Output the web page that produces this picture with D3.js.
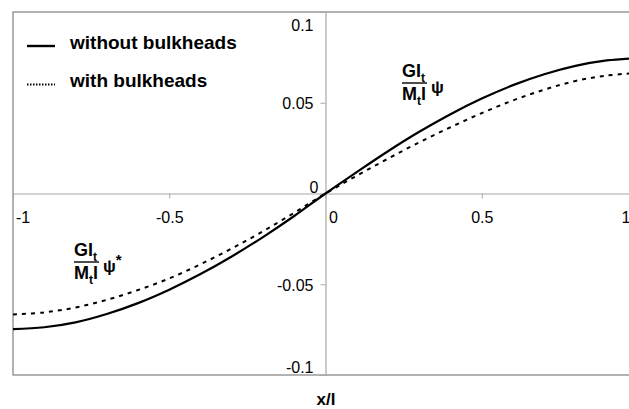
<!DOCTYPE html>
<html>
<head>
<meta charset="utf-8">
<script src="https://cdn.jsdelivr.net/npm/d3@7"></script>
<style>
  body { margin: 0; background: #fff; }
  text { font-family: Arial, "Liberation Sans", sans-serif; fill: #000; }
</style>
</head>
<body>
<svg id="chart" width="629" height="409"></svg>
<script>
// values
var xPos = [-1, -0.9, -0.8, -0.7, -0.6, -0.5, -0.4, -0.3, -0.2, -0.1, 0,
            0.1, 0.2, 0.3, 0.4, 0.5, 0.6, 0.7, 0.8, 0.9, 1];
var withoutBulkheads = [-0.0747, -0.0737, -0.0710, -0.0664, -0.0604, -0.0530, -0.0444, -0.0347, -0.0240, -0.0124, 0,
                        0.0118, 0.0233, 0.0340, 0.0437, 0.0523, 0.0597, 0.0657, 0.0703, 0.0733, 0.0746];
var withBulkheads = [-0.0666, -0.0655, -0.0628, -0.0586, -0.0532, -0.0468, -0.0390, -0.0303, -0.0208, -0.0106, 0,
                     0.0098, 0.0192, 0.0282, 0.0365, 0.0443, 0.0513, 0.0572, 0.0620, 0.0650, 0.0664];
var xTicks = [-1, -0.5, 0, 0.5, 1];
var xTickLabels = ["-1", "-0.5", "0", "0.5", "1"];
var yTicks = [-0.1, -0.05, 0, 0.05, 0.1];
var yTickLabels = ["-0.1", "-0.05", "0", "0.05", "0.1"];
var seriesNames = ["without bulkheads", "with bulkheads"];

var svg = d3.select("#chart"),
    marginLeft = 13, marginTop = 12, plotW = 625, plotH = 363;

var x = d3.scaleLinear().domain([-1, 1]).range([marginLeft, marginLeft + plotW]);
var y = d3.scaleLinear().domain([-0.1, 0.1]).range([marginTop + plotH, marginTop]);

// plot frame
svg.append("rect")
    .attr("x", marginLeft).attr("y", marginTop)
    .attr("width", plotW).attr("height", plotH)
    .attr("fill", "none")
    .attr("stroke", "#808080")
    .attr("stroke-width", 1.2);

// x axis through y = 0
var xAxis = svg.append("g")
    .attr("transform", "translate(0," + y(0) + ")")
    .call(d3.axisBottom(x).tickValues(xTicks).tickSize(5)
      .tickFormat(function(d, i) { return xTickLabels[i]; }));

// y axis through x = 0
var yAxis = svg.append("g")
    .attr("transform", "translate(" + x(0) + ",0)")
    .call(d3.axisLeft(y).tickValues(yTicks).tickSize(5)
      .tickFormat(function(d, i) { return yTickLabels[i]; }));

[xAxis, yAxis].forEach(function(a) {
  a.select(".domain").attr("stroke", "#a8a8a8").attr("stroke-width", 1.2);
  a.selectAll(".tick line").attr("stroke", "#a8a8a8");
  a.selectAll("text").attr("font-size", 16).attr("font-family", "Arial, 'Liberation Sans', sans-serif").attr("fill", "#111");
});

// excel pushes the end labels inside the plot
xAxis.selectAll(".tick text")
    .attr("y", 18)
    .attr("text-anchor", function(d) { return d === -1 || d === 0 || d === 1 ? "start" : "middle"; })
    .attr("x", function(d) { return d === -1 ? 2.5 : d === 0 ? 3 : d === 1 ? -17 : 0; });

yAxis.selectAll(".tick text")
    .attr("x", function(d) { return d === 0 ? -7 : -12; })
    .attr("y", function(d) { return d === 0.1 ? 13 : d === 0 ? -6 : d === -0.1 ? -7.5 : 1; });

var line = d3.line()
    .x(function(d) { return x(d[0]); })
    .y(function(d) { return y(d[1]); })
    .curve(d3.curveCatmullRom);

svg.append("path")
    .datum(d3.zip(xPos, withBulkheads))
    .attr("fill", "none")
    .attr("stroke", "#000")
    .attr("stroke-width", 2)
    .attr("stroke-dasharray", "4,5")
    .attr("d", line);

svg.append("path")
    .datum(d3.zip(xPos, withoutBulkheads))
    .attr("fill", "none")
    .attr("stroke", "#000")
    .attr("stroke-width", 2.2)
    .attr("d", line);

// legend
var legend = svg.append("g")
    .selectAll("g")
    .data(seriesNames)
    .enter().append("g")
      .attr("transform", function(d, i) { return "translate(27," + (46 + i * 38.5) + ")"; });

legend.append("line")
    .attr("x1", 0).attr("x2", 28)
    .attr("stroke", "#000")
    .attr("stroke-width", function(d, i) { return i === 0 ? 2.4 : 1.8; })
    .attr("stroke-dasharray", function(d, i) { return i === 0 ? null : "1.5,1.5"; });

legend.append("text")
    .attr("x", 43)
    .attr("y", 2.5)
    .attr("font-size", 19)
    .attr("font-weight", "bold")
    .text(function(d) { return d; });

// the GI_t / M_t l labels
function fraction(x0, yTop, w, star) {
  var g = svg.append("g").attr("font-weight", "bold");
  var t1 = g.append("text").attr("x", x0).attr("y", yTop).attr("font-size", 18);
  t1.append("tspan").text("GI");
  t1.append("tspan").attr("font-size", 12).attr("dy", 5).text("t");
  g.append("line")
      .attr("x1", x0).attr("x2", x0 + w)
      .attr("y1", yTop + 6).attr("y2", yTop + 6)
      .attr("stroke", "#000").attr("stroke-width", 1.4);
  var t2 = g.append("text").attr("x", x0).attr("y", yTop + 23).attr("font-size", 18);
  t2.append("tspan").text("M");
  t2.append("tspan").attr("font-size", 12).attr("dy", 5).text("t");
  t2.append("tspan").attr("dy", -5).text("l");
  var t3 = g.append("text").attr("x", x0 + w + 4).attr("y", yTop + 16).attr("font-size", 17).text("\u03c8");
  if (star) t3.append("tspan").attr("font-size", 15).attr("dy", -7).text("*");
}
fraction(402, 77, 25, false);
fraction(74, 256, 25, true);

// axis title
svg.append("text")
    .attr("x", 326)
    .attr("y", 405)
    .attr("text-anchor", "middle")
    .attr("font-size", 17)
    .attr("font-weight", "bold")
    .text("x/l");
</script>
</body>
</html>
